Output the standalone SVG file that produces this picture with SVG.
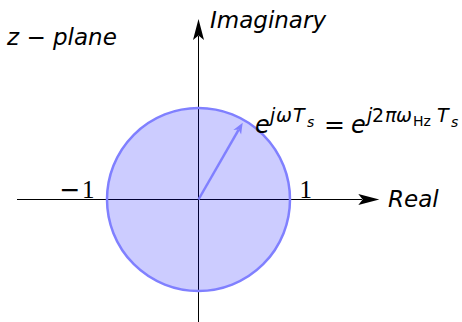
<svg xmlns="http://www.w3.org/2000/svg" width="462" height="322" viewBox="0 0 462 322">
<style>
.axis{stroke:#000;stroke-width:1;fill:none}
.head{fill:#000;stroke:none}
.bhead{fill:#8080ff;stroke:none}
.it{font-family:"DejaVu Sans","Liberation Sans",sans-serif;font-style:italic;fill:#000}
.up{font-family:"DejaVu Sans","Liberation Sans",sans-serif;font-style:normal;fill:#000}
.num{font-family:"Liberation Serif","DejaVu Serif",serif;fill:#000}
.sup{font-size:19px}
.sub{font-size:14px}
</style>
<rect width="462" height="322" fill="#fff"/>
<g id="connectors">
<line class="axis" x1="17" y1="199.5" x2="362" y2="199.5"/>
<path class="head" d="M379.3,199.5 L358.3,194 L362.7,199.5 L358.3,205 Z"/>
<line class="axis" x1="198.5" y1="322" x2="198.5" y2="36"/>
<path class="head" d="M198.5,19 L193,40 L198.5,35.6 L204,40 Z"/>
</g>
<g id="unit-circle">
<circle cx="198.5" cy="199.5" r="91.5" fill="#0000ff" fill-opacity="0.2" stroke="#8080ff" stroke-width="2.5"/>
</g>
<g id="phasor">
<line x1="198.5" y1="199.5" x2="238.7" y2="129.6" stroke="#8080ff" stroke-width="2.5"/>
<path class="bhead" d="M242.7,122.7 L241.1,134.45 L238.7,129.6 L233.3,129.95 Z"/>
</g>
<g id="labels">
<text class="it" x="7" y="45" font-size="23">z − plane</text>
<text class="it" x="210" y="28" font-size="23">Imaginary</text>
<text class="it" x="388" y="207" font-size="23">Real</text>
<text font-size="25" y="198"><tspan class="up" x="59.5">−</tspan><tspan class="num" x="82">1</tspan></text>
<text class="num" x="299.5" y="198" font-size="25">1</text>
</g>
<g id="formula">
<text class="it" font-size="24"><tspan x="255" y="133">e</tspan><tspan class="sup" x="270" y="122">j</tspan><tspan class="sup" x="276" y="122">ω</tspan><tspan class="sup" x="293" y="122">T</tspan><tspan class="sub" x="307" y="127">s</tspan><tspan class="up" x="324" y="133" style="font-size:25px">=</tspan><tspan x="351" y="133">e</tspan><tspan class="sup" x="367" y="122">j</tspan><tspan class="sup up" x="372" y="122">2</tspan><tspan class="sup" x="385" y="122">π</tspan><tspan class="sup" x="396" y="122">ω</tspan><tspan class="sub up" x="413" y="126">Hz</tspan><tspan class="sup" x="437" y="122">T</tspan><tspan class="sub" x="451" y="127">s</tspan></text>
</g>
</svg>
